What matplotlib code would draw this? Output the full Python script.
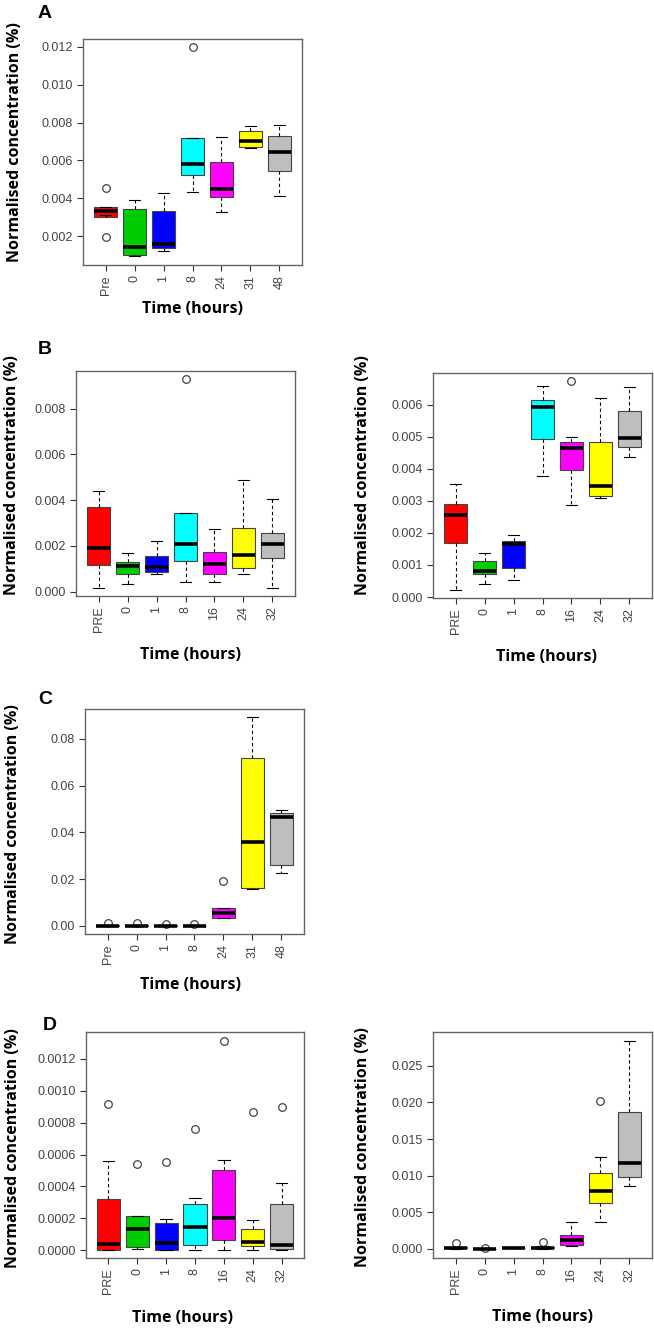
import matplotlib
matplotlib.use("Agg")
import matplotlib.pyplot as plt

# ---------------- data ----------------
COLORS = ["#FF0000", "#00CD00", "#0000FF", "#00FFFF", "#FF00FF", "#FFFF00", "#BEBEBE"]

A_LABELS = ["Pre", "0", "1", "8", "24", "31", "48"]
A_LOW  = [0.00310, 0.00094, 0.00122, 0.00431, 0.00325, 0.00665, 0.00412]
A_Q1   = [0.00302, 0.00100, 0.00135, 0.00523, 0.00408, 0.00669, 0.00542]
A_MED  = [0.00332, 0.00144, 0.00160, 0.00580, 0.00450, 0.00704, 0.00646]
A_Q3   = [0.00355, 0.00343, 0.00332, 0.00720, 0.00590, 0.00756, 0.00729]
A_HIGH = [0.00355, 0.00390, 0.00429, 0.00720, 0.00726, 0.00782, 0.00787]
A_OUT  = [[0.00456, 0.00195], [], [], [0.01200], [], [], []]
A_TICKS = [0.002, 0.004, 0.006, 0.008, 0.010, 0.012]
A_TICKLABELS = ["0.002", "0.004", "0.006", "0.008", "0.010", "0.012"]

B1_LABELS = ["PRE", "0", "1", "8", "16", "24", "32"]
B1_LOW  = [0.000175, 0.00032, 0.00077, 0.00041, 0.00041, 0.00077, 0.000175]
B1_Q1   = [0.00116, 0.00077, 0.00084, 0.00134, 0.00077, 0.00102, 0.00145]
B1_MED  = [0.00192, 0.00113, 0.00109, 0.00207, 0.00121, 0.00160, 0.00207]
B1_Q3   = [0.00368, 0.00131, 0.00156, 0.00345, 0.00175, 0.00276, 0.00255]
B1_HIGH = [0.00439, 0.00167, 0.00221, 0.00345, 0.00272, 0.00490, 0.00403]
B1_OUT  = [[], [], [], [0.00928], [], [], []]
B1_TICKS = [0.000, 0.002, 0.004, 0.006, 0.008]
B1_TICKLABELS = ["0.000", "0.002", "0.004", "0.006", "0.008"]

B2_LABELS = ["PRE", "0", "1", "8", "16", "24", "32"]
B2_LOW  = [0.00021, 0.00040, 0.00052, 0.00378, 0.00287, 0.00308, 0.00438]
B2_Q1   = [0.00169, 0.00073, 0.00091, 0.00493, 0.00397, 0.00315, 0.00467]
B2_MED  = [0.00256, 0.00081, 0.00164, 0.00593, 0.00466, 0.00346, 0.00496]
B2_Q3   = [0.00289, 0.00112, 0.00175, 0.00614, 0.00483, 0.00483, 0.00581]
B2_HIGH = [0.00352, 0.00138, 0.00195, 0.00657, 0.00499, 0.00621, 0.00654]
B2_OUT  = [[], [], [], [], [0.00673], [], []]
B2_TICKS = [0.000, 0.001, 0.002, 0.003, 0.004, 0.005, 0.006]
B2_TICKLABELS = ["0.000", "0.001", "0.002", "0.003", "0.004", "0.005", "0.006"]

C_LABELS = ["Pre", "0", "1", "8", "24", "31", "48"]
C_LOW  = [0.00000, 0.00000, 0.00000, 0.00000, 0.00330, 0.0160, 0.0225]
C_Q1   = [0.00005, 0.00005, 0.00005, 0.00005, 0.00357, 0.0161, 0.0260]
C_MED  = [0.00015, 0.00015, 0.00012, 0.00010, 0.00540, 0.0357, 0.0466]
C_Q3   = [0.00030, 0.00030, 0.00025, 0.00020, 0.00784, 0.0717, 0.0482]
C_HIGH = [0.00050, 0.00045, 0.00040, 0.00030, 0.00784, 0.0891, 0.0496]
C_OUT  = [[0.0014], [0.0011], [0.0009], [0.0007], [0.0194], [], []]
C_TICKS = [0.00, 0.02, 0.04, 0.06, 0.08]
C_TICKLABELS = ["0.00", "0.02", "0.04", "0.06", "0.08"]

D1_LABELS = ["PRE", "0", "1", "8", "16", "24", "32"]
D1_LOW  = [0.000004, 0.000008, 0.000004, 0.000004, 0.000004, 0.000004, 0.000004]
D1_Q1   = [0.000004, 0.000021, 0.000004, 0.000031, 0.000063, 0.000025, 0.000008]
D1_MED  = [0.000042, 0.000136, 0.000046, 0.000147, 0.000205, 0.000052, 0.000036]
D1_Q3   = [0.000320, 0.000214, 0.000174, 0.000287, 0.000503, 0.000134, 0.000289]
D1_HIGH = [0.000559, 0.000216, 0.000199, 0.000325, 0.000563, 0.000193, 0.000423]
D1_OUT  = [[0.000915], [0.000538], [0.000555], [0.000760], [0.001313], [0.000865], [0.000900]]
D1_TICKS = [0.0, 0.0002, 0.0004, 0.0006, 0.0008, 0.0010, 0.0012]
D1_TICKLABELS = ["0.0000", "0.0002", "0.0004", "0.0006", "0.0008", "0.0010", "0.0012"]

D2_LABELS = ["PRE", "0", "1", "8", "16", "24", "32"]
D2_LOW  = [0.00005, 0.00000, 0.00008, 0.00005, 0.00040, 0.00365, 0.00862]
D2_Q1   = [0.00010, 0.00001, 0.00010, 0.00010, 0.00050, 0.00630, 0.00985]
D2_MED  = [0.00015, 0.00003, 0.00012, 0.00020, 0.00128, 0.00794, 0.01168]
D2_Q3   = [0.00025, 0.00005, 0.00015, 0.00030, 0.00196, 0.01030, 0.01875]
D2_HIGH = [0.00030, 0.00008, 0.00020, 0.00040, 0.00365, 0.01255, 0.02840]
D2_OUT  = [[0.00082], [0.00014], [], [0.00090], [], [0.02020], []]
D2_TICKS = [0.000, 0.005, 0.010, 0.015, 0.020, 0.025]
D2_TICKLABELS = ["0.000", "0.005", "0.010", "0.015", "0.020", "0.025"]

YLABEL = "Normalised concentration (%)"
XLABEL = "Time (hours)"

# ---------------- layout ----------------
W, H = 654, 1328
fig = plt.figure(figsize=(W / 100, H / 100), dpi=100)
fig.patch.set_facecolor("white")

HEAD_FONT = ["Open Sans", "DejaVu Sans"]
TICK_FONT = ["Liberation Sans", "DejaVu Sans"]
FRAME = "#666666"
TICKCOL = "#444444"


def px_axes(l, r, t, b):
    return fig.add_axes([l / W, 1 - b / H, (r - l) / W, (b - t) / H])


def draw_panel(box, labels, low, q1, med, q3, high, out, ticks, ticklabels, ylim):
    ax = px_axes(*box)
    stats = []
    for i in range(len(labels)):
        stats.append(dict(whislo=low[i], q1=q1[i], med=med[i], q3=q3[i],
                          whishi=high[i], fliers=out[i], label=labels[i]))
    bp = ax.bxp(stats, positions=range(1, len(labels) + 1), widths=0.8,
                patch_artist=True, showfliers=True,
                boxprops=dict(edgecolor="#444444", linewidth=0.8),
                medianprops=dict(color="black", linewidth=2.6, solid_capstyle="butt"),
                whiskerprops=dict(color="black", linewidth=0.8, linestyle=(0, (3, 2.5))),
                capprops=dict(color="black", linewidth=0.8),
                capwidths=0.4,
                flierprops=dict(marker="o", markerfacecolor="none",
                                markeredgecolor="#444444", markersize=5.5,
                                markeredgewidth=0.9, linestyle="none"))
    for patch, c in zip(bp["boxes"], COLORS):
        patch.set_facecolor(c)
    ax.set_xlim(0.22, len(labels) + 0.78)
    ax.set_ylim(*ylim)
    ax.set_yticks(ticks)
    ax.set_yticklabels(ticklabels, fontfamily=TICK_FONT, fontsize=9, color=TICKCOL)
    ax.set_xticks(range(1, len(labels) + 1))
    ax.set_xticklabels(labels, rotation=90, fontfamily=TICK_FONT, fontsize=9, color=TICKCOL)
    ax.tick_params(direction="out", length=4.5, width=0.8, color="#333333", pad=3)
    for s in ax.spines.values():
        s.set_color(FRAME)
        s.set_linewidth(1.0)
    return ax


def ftext(x, y, s, **kw):
    fig.text(x / W, 1 - y / H, s, ha="center", va="center", **kw)


draw_panel((83, 302, 39, 265), A_LABELS, A_LOW, A_Q1, A_MED, A_Q3, A_HIGH, A_OUT,
           A_TICKS, A_TICKLABELS, (0.00047, 0.01242))
draw_panel((76, 295, 371, 596), B1_LABELS, B1_LOW, B1_Q1, B1_MED, B1_Q3, B1_HIGH, B1_OUT,
           B1_TICKS, B1_TICKLABELS, (-0.000189, 0.00964))
draw_panel((433, 652, 373, 598), B2_LABELS, B2_LOW, B2_Q1, B2_MED, B2_Q3, B2_HIGH, B2_OUT,
           B2_TICKS, B2_TICKLABELS, (-0.00003, 0.00699))
draw_panel((85, 304, 709, 934), C_LABELS, C_LOW, C_Q1, C_MED, C_Q3, C_HIGH, C_OUT,
           C_TICKS, C_TICKLABELS, (-0.00342, 0.0927))
draw_panel((86, 304, 1032, 1258), D1_LABELS, D1_LOW, D1_Q1, D1_MED, D1_Q3, D1_HIGH, D1_OUT,
           D1_TICKS, D1_TICKLABELS, (-0.000048, 0.001367))
draw_panel((433, 652, 1032, 1258), D2_LABELS, D2_LOW, D2_Q1, D2_MED, D2_Q3, D2_HIGH, D2_OUT,
           D2_TICKS, D2_TICKLABELS, (-0.00123, 0.0296))

head = dict(fontfamily=HEAD_FONT, fontweight="bold", fontsize=11.5, color="black")
# y labels
for (x, y) in [(15, 142), (12, 475), (363, 475), (13, 824), (13, 1148), (363, 1147)]:
    ftext(x, y, YLABEL, rotation=90, **head)
# x labels
for (x, y) in [(192, 309), (190, 655), (546, 657), (191, 985), (182, 1318), (542, 1317)]:
    ftext(x, y, XLABEL, **head)
# panel letters
letter = dict(fontfamily=["Liberation Sans", "DejaVu Sans"], fontweight="bold", fontsize=14, color="black")
for (x, y, s) in [(45, 13, "A"), (45, 349, "B"), (45, 700, "C"), (50, 1025, "D")]:
    ftext(x, y, s, **letter)

fig.savefig("out.png", dpi=100)
